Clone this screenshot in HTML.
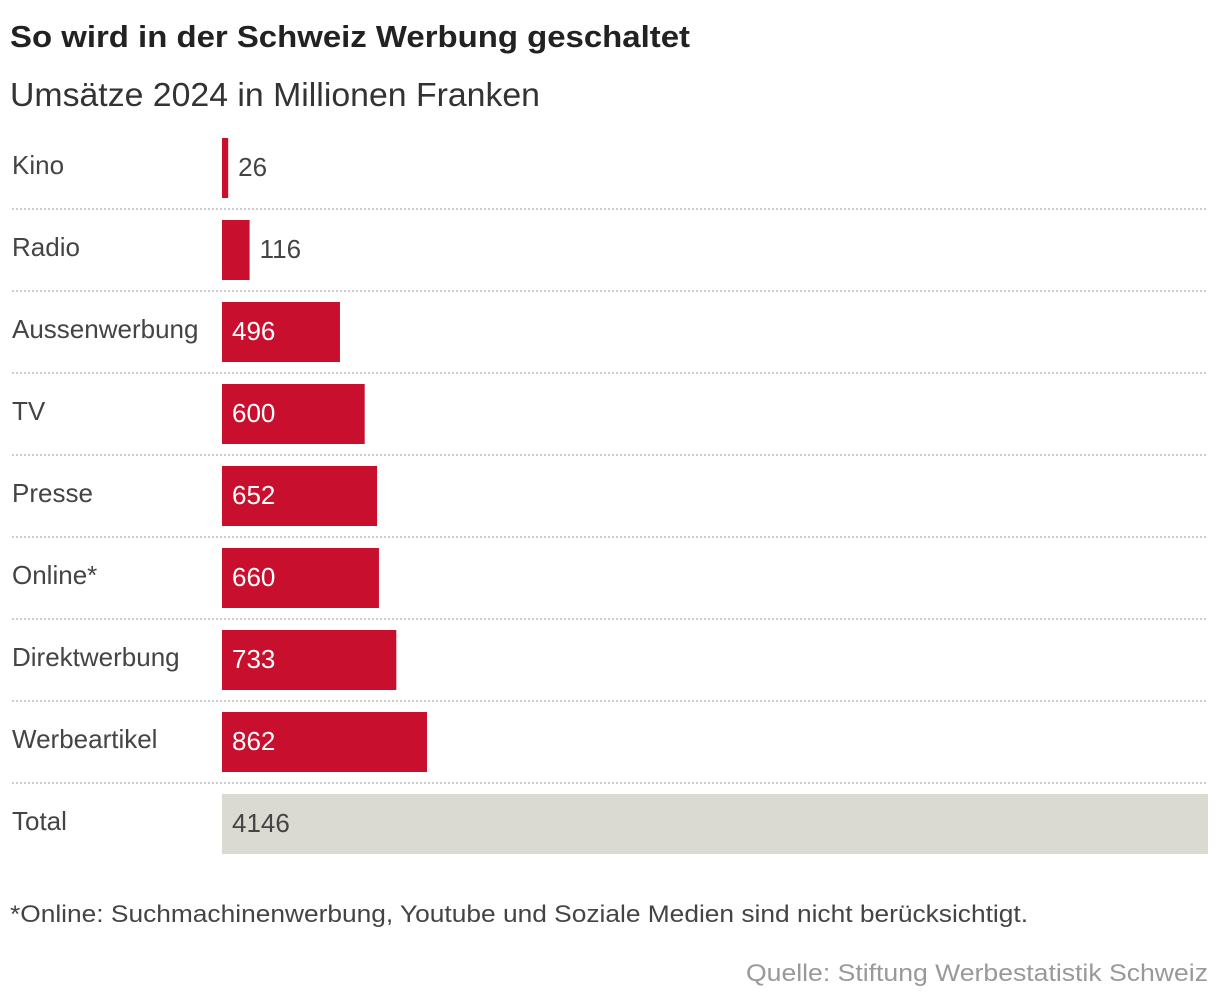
<!DOCTYPE html>
<html><head><meta charset="utf-8"><style>
body{margin:0;background:#fff;width:1220px;height:1004px;overflow:hidden;font-family:"Liberation Sans",sans-serif;color:#333}
svg{position:absolute;left:0;top:0}
</style></head><body>
<svg id="chart" width="1220" height="1004" xmlns="http://www.w3.org/2000/svg">
<text x="10" y="47" font-size="31" font-weight="bold" fill="#222" textLength="680" lengthAdjust="spacingAndGlyphs">So wird in der Schweiz Werbung geschaltet</text>
<text x="10" y="106" font-size="33" fill="#333" textLength="530" lengthAdjust="spacingAndGlyphs">Umsätze 2024 in Millionen Franken</text>
<text x="10" y="922" font-size="24" fill="#444" textLength="1018" lengthAdjust="spacingAndGlyphs">*Online: Suchmachinenwerbung, Youtube und Soziale Medien sind nicht berücksichtigt.</text>
<text x="746" y="981" font-size="24" fill="#999" textLength="462" lengthAdjust="spacingAndGlyphs">Quelle: Stiftung Werbestatistik Schweiz</text>
<g id="rows"></g>
</svg>
<script>
const categories=["Kino","Radio","Aussenwerbung","TV","Presse","Online*","Direktwerbung","Werbeartikel","Total"];
const values=[26,116,496,600,652,660,733,862,4146];
const maxValue=4146;
const NS="http://www.w3.org/2000/svg";
const g=document.getElementById("rows");
const x0=222,x1=1208,top0=138,pitch=82,barH=60;
function xs(v){return v/maxValue*(x1-x0);}
function mk(t,a){const e=document.createElementNS(NS,t);for(const k in a)e.setAttribute(k,a[k]);g.appendChild(e);return e;}
categories.forEach((c,i)=>{
  const y=top0+i*pitch;
  const isTotal=i===categories.length-1;
  const lab=mk("text",{x:12,y:y+36,"font-size":26,fill:"#444"});
  lab.textContent=c;
  
  
  const w=xs(values[i]);
  const r=mk("rect",{x:x0,y:y,width:w,height:barH,fill:isTotal?"#dad9d2":"#c8102e"});
  
  
  const inside=w>60;
  const vt=mk("text",{x:inside?x0+10:x0+w+10,y:y+38,"font-size":26,fill:inside&&!isTotal?"#fff":"#444"});
  vt.textContent=values[i];
  
  
  if(!isTotal){
    const s=mk("line",{x1:12,x2:1208,y1:y+71,y2:y+71,stroke:"#bbb","stroke-width":1.5,"stroke-dasharray":"2,2"});
    
    
  }
});
</script>
</body></html>
